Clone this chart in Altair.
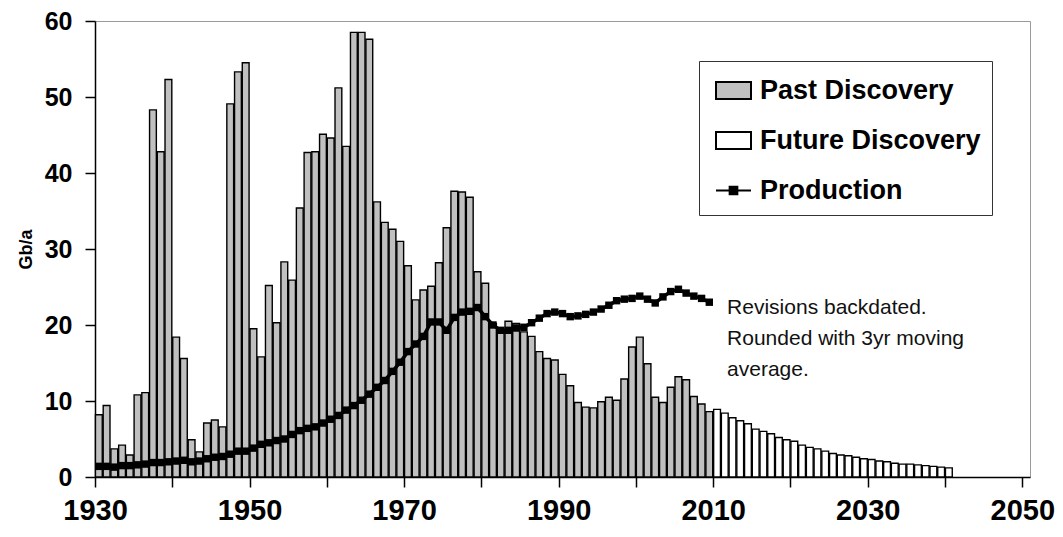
import altair as alt
import pandas as pd

# ---- data ----
past_years = list(range(1930, 2010))
past_discovery = [
    8.2, 9.4, 3.7, 4.2, 2.9, 10.8, 11.1, 48.3, 42.8, 52.3,
    18.4, 15.6, 4.9, 3.3, 7.1, 7.5, 6.6, 49.1, 53.3, 54.5,
    19.5, 15.8, 25.2, 20.3, 28.3, 25.9, 35.4, 42.7, 42.8, 45.1,
    44.6, 51.2, 43.5, 58.5, 58.5, 57.6, 36.2, 33.5, 32.6, 31.0,
    27.8, 23.3, 24.6, 25.1, 28.2, 32.8, 37.6, 37.5, 36.8, 27.0,
    25.5, 20.2, 19.3, 20.5, 20.2, 19.1, 18.5, 16.5, 15.6, 15.4,
    13.5, 12.0, 9.8, 9.2, 9.1, 9.9, 10.5, 10.1, 12.9, 17.1,
    18.4, 14.9, 10.5, 9.8, 11.8, 13.2, 12.8, 10.6, 9.6, 8.6,
]
future_years = list(range(2010, 2041))
future_discovery = [
    8.9, 8.4, 7.8, 7.4, 7.0, 6.3, 6.0, 5.7, 5.2, 4.9,
    4.7, 4.2, 3.9, 3.7, 3.4, 3.1, 2.9, 2.8, 2.6, 2.4,
    2.3, 2.1, 2.0, 1.8, 1.7, 1.7, 1.6, 1.5, 1.4, 1.3, 1.2,
]
prod_years = list(range(1930, 2010))
production = [
    1.4, 1.4, 1.3, 1.5, 1.5, 1.6, 1.7, 1.9, 1.9, 2.0,
    2.1, 2.2, 2.0, 2.1, 2.4, 2.6, 2.7, 3.0, 3.4, 3.4,
    3.8, 4.3, 4.5, 4.8, 5.0, 5.6, 6.1, 6.4, 6.6, 7.1,
    7.6, 8.1, 8.8, 9.4, 10.1, 10.9, 11.8, 12.7, 13.9, 15.1,
    16.5, 17.5, 18.5, 20.4, 20.4, 19.3, 21.0, 21.7, 21.8, 22.3,
    21.1, 20.0, 19.3, 19.3, 19.6, 19.7, 20.3, 20.9, 21.5, 21.7,
    21.5, 21.1, 21.2, 21.4, 21.7, 22.1, 22.6, 23.2, 23.4, 23.5,
    23.8, 23.4, 22.9, 23.7, 24.4, 24.7, 24.2, 23.8, 23.5, 23.0,
]
series_names = ["Past Discovery", "Future Discovery", "Production"]
series_colors = ["#c0c0c0", "#ffffff", "#000000"]
x_ticks = list(range(1930, 2051, 10))
y_ticks = list(range(0, 61, 10))
annotation_text = "Revisions backdated.\nRounded with 3yr moving\naverage."
annotation_pos = (2011.8, 23.7)

# ---- tables ----
bars = pd.DataFrame({
    "year": past_years + future_years,
    "value": past_discovery + future_discovery,
    "kind": ["Past Discovery"] * len(past_years) + ["Future Discovery"] * len(future_years),
})
prod = pd.DataFrame({"year": prod_years, "prod": production})
note = pd.DataFrame({"x": [annotation_pos[0]], "y": [annotation_pos[1]], "text": [annotation_text]})
legend_df = pd.DataFrame({"kind": series_names})

FONT = "Liberation Sans"
xscale = alt.Scale(domain=[1930, 2051], nice=False, zero=False)
yscale = alt.Scale(domain=[0, 60], nice=False)

xaxis = alt.Axis(
    values=x_ticks, format="d", title=None, grid=False,
    labelExpr="datum.value % 20 == 10 ? datum.label : ''",
    labelFont=FONT, labelFontSize=29, labelFontWeight="bold", labelColor="black",
    labelPadding=9, labelFlush=False, tickSize=10, tickWidth=1.5, tickColor="black",
    domainColor="black", domainWidth=1.5,
)
yaxis = alt.Axis(
    values=y_ticks, title="Gb/a", grid=False,
    labelFont=FONT, labelFontSize=25, labelFontWeight="bold", labelColor="black",
    labelPadding=13, tickSize=10, tickWidth=1.5, tickColor="black",
    domainColor="black", domainWidth=1.5,
    titleFont=FONT, titleFontSize=18, titleFontWeight="bold", titleColor="black",
    titlePadding=9,
)

rect_path = "M-1,-0.486H1V0.486H-1Z"
prod_path = "M-1,0H1M-0.22,-0.22H0.22V0.22H-0.22Z"

legend = alt.Legend(
    title=None, orient="none", legendX=604, legendY=40, direction="vertical",
    fillColor="white", strokeColor="#333333", padding=11, rowPadding=18,
    symbolSize=1225, symbolStrokeColor="black", symbolOffset=5,
    symbolStrokeWidth=2, symbolOpacity=1,
    labelFont=FONT, labelFontSize=27, labelFontWeight="bold", labelColor="black",
    labelOffset=8, labelLimit=400,
)
fill_scale = alt.Scale(domain=series_names, range=series_colors)
shape_scale = alt.Scale(domain=series_names, range=[rect_path, rect_path, prod_path])
stroke_scale = alt.Scale(domain=series_names, range=["#000000", "#000000", "#000000"])

bar_layer = alt.Chart(bars).transform_calculate(
    x0="datum.year + 0.06", x1="datum.year + 0.94"
).mark_bar(stroke="black", strokeWidth=1.4).encode(
    x=alt.X("x0:Q", scale=xscale, axis=xaxis),
    x2="x1:Q",
    y=alt.Y("value:Q", scale=yscale, axis=yaxis),
    y2=alt.datum(0),
    fill=alt.Fill("kind:N", scale=fill_scale, legend=legend),
)

line_layer = alt.Chart(prod).transform_calculate(
    xc="datum.year + 0.5"
).mark_line(
    color="black", strokeWidth=3.5,
    point=alt.OverlayMarkDef(shape="square", size=55, filled=True, color="black"),
).encode(
    x=alt.X("xc:Q", scale=xscale),
    y=alt.Y("prod:Q", scale=yscale),
)

legend_layer = alt.Chart(legend_df).transform_filter("false").mark_point(
    filled=True, opacity=1, strokeWidth=2
).encode(
    fill=alt.Fill("kind:N", scale=fill_scale, legend=legend),
    shape=alt.Shape("kind:N", scale=shape_scale, legend=legend),
    stroke=alt.Stroke("kind:N", scale=stroke_scale, legend=legend),
)

text_layer = alt.Chart(note).mark_text(
    align="left", baseline="top", font=FONT, fontSize=21, lineHeight=31, color="#111111",
    lineBreak="\n",
).encode(
    x=alt.X("x:Q", scale=xscale),
    y=alt.Y("y:Q", scale=yscale),
    text="text:N",
)

chart = alt.layer(bar_layer, line_layer, text_layer, legend_layer).properties(
    width=935, height=456,
    autosize=alt.AutoSizeParams(type="none"),
    padding={"left": 87, "top": 13, "right": 25, "bottom": 52},
    background="white",
).configure_view(stroke="#9a9a9a", strokeWidth=1)

chart.save("out.html", embed_options={"renderer": "svg", "actions": False})
